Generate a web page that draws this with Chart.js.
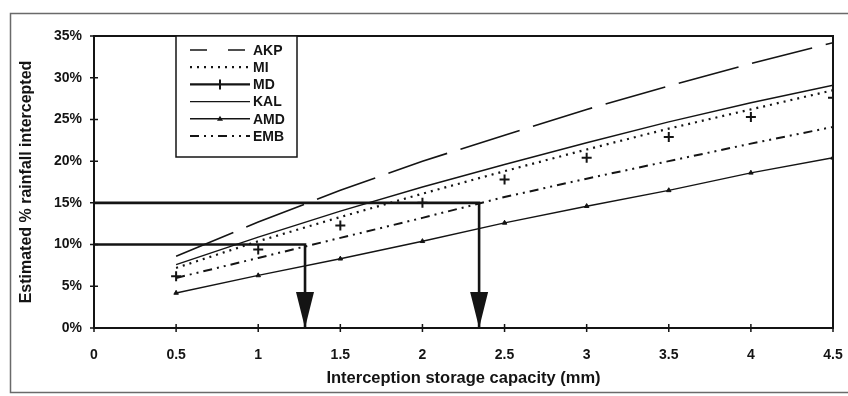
<!DOCTYPE html>
<html>
<head>
<meta charset="utf-8">
<script src="https://cdn.jsdelivr.net/npm/chart.js@4/dist/chart.umd.min.js"></script>
<style>
  html, body { margin: 0; padding: 0; background: #fff; }
  canvas { display: block; }
</style>
</head>
<body>
<canvas id="chart" width="848" height="396"></canvas>
<script>
// Interception storage capacity (mm) at which each model was evaluated
const capacity = [0.5, 1, 1.5, 2, 2.5, 3, 3.5, 4, 4.5];

// Estimated % of rainfall intercepted, per model
const akp = [8.6, 12.7, 16.5, 20.0, 23.1, 26.2, 29.0, 31.7, 34.2];
const mi  = [7.2, 10.4, 13.3, 16.1, 18.8, 21.4, 23.9, 26.2, 28.5];
const md  = [6.2, 9.4, 12.3, 15.0, 17.8, 20.4, 22.9, 25.3, 27.6];
const kal = [7.6, 10.9, 14.0, 16.9, 19.6, 22.2, 24.7, 27.0, 29.1];
const amd = [4.2, 6.3, 8.3, 10.4, 12.6, 14.6, 16.5, 18.6, 20.4];
const emb = [6.0, 8.4, 10.8, 13.2, 15.7, 17.9, 20.0, 22.1, 24.1];

const seriesNames = ['AKP', 'MI', 'MD', 'KAL', 'AMD', 'EMB'];

// Axis tick labels
const xTickLabels = ['0', '0.5', '1', '1.5', '2', '2.5', '3', '3.5', '4', '4.5'];
const yTickLabels = ['0%', '5%', '10%', '15%', '20%', '25%', '30%', '35%'];

// Read-off guides: target interception (%) and the capacity (mm) it maps to
const readOffTargets  = [10, 15];
const readOffCapacity = [1.285, 2.345];

const INK = '#141414';
const FONT = '"Liberation Sans", Arial, sans-serif';

const pts = (ys) => capacity.map((x, i) => ({ x, y: ys[i] }));

const styles = {
  AKP: { borderDash: [62, 14], borderWidth: 1.6, pointRadius: 0 },
  MI:  { borderDash: [2, 5], borderWidth: 2.2, pointRadius: 0 },
  MD:  { showLine: false, pointStyle: 'cross', pointRadius: 5, pointBorderWidth: 2 },
  KAL: { borderWidth: 1.4, pointRadius: 0 },
  AMD: { borderWidth: 1.4, pointStyle: 'triangle', pointRadius: 2.6, pointBorderWidth: 1 },
  EMB: { borderDash: [9, 5, 2, 5, 2, 5], borderWidth: 2, pointRadius: 0 }
};
// Shorter dash for the legend swatch of the long-dash series
const legendDash = { AKP: [17, 21] };
const values = { AKP: akp, MI: mi, MD: md, KAL: kal, AMD: amd, EMB: emb };

const datasets = seriesNames.map(name => Object.assign({
  label: name,
  data: pts(values[name]),
  borderColor: INK,
  backgroundColor: INK,
  pointBackgroundColor: INK,
  pointBorderColor: INK,
  fill: false,
  tension: 0
}, styles[name]));

// Guide lines: across from the y axis at the target, then down to the x axis
readOffTargets.forEach((t, i) => {
  datasets.push({
    label: 'guide' + i,
    data: [{ x: 0, y: t }, { x: readOffCapacity[i], y: t }, { x: readOffCapacity[i], y: 0 }],
    borderColor: INK,
    borderWidth: 2.6,
    pointRadius: 0,
    fill: false,
    tension: 0
  });
});

// White page plus the thin outer frame
const framePlugin = {
  id: 'frame',
  beforeDraw(chart) {
    const ctx = chart.ctx;
    ctx.save();
    ctx.fillStyle = '#fff';
    ctx.fillRect(0, 0, chart.width, chart.height);
    ctx.strokeStyle = '#6a6a6a';
    ctx.lineWidth = 1.5;
    ctx.strokeRect(10.5, 13.5, chart.width - 3, chart.height - 17);
    ctx.restore();
  }
};

// Plot box (top/right edges), crossing tick marks and arrowheads
const decorPlugin = {
  id: 'decor',
  afterDatasetsDraw(chart) {
    const { ctx, chartArea: a, scales: { x, y } } = chart;
    ctx.save();
    ctx.strokeStyle = INK;
    ctx.lineWidth = 2;
    ctx.beginPath();
    ctx.moveTo(a.left, a.top);
    ctx.lineTo(a.right, a.top);
    ctx.lineTo(a.right, a.bottom);
    ctx.stroke();

    ctx.lineWidth = 1.5;
    ctx.beginPath();
    y.ticks.forEach(t => {
      const py = y.getPixelForValue(t.value);
      ctx.moveTo(a.left - 4, py);
      ctx.lineTo(a.left + 4, py);
    });
    x.ticks.forEach(t => {
      const px = x.getPixelForValue(t.value);
      ctx.moveTo(px, a.bottom - 4);
      ctx.lineTo(px, a.bottom + 4);
    });
    ctx.stroke();

    ctx.fillStyle = INK;
    readOffCapacity.forEach(c => {
      const px = x.getPixelForValue(c);
      const py = y.getPixelForValue(0);
      ctx.beginPath();
      ctx.moveTo(px, py);
      ctx.lineTo(px - 9, py - 36);
      ctx.lineTo(px + 9, py - 36);
      ctx.closePath();
      ctx.fill();
    });
    ctx.restore();
  }
};

// Boxed legend in the upper left of the plot
const legendPlugin = {
  id: 'boxLegend',
  afterDraw(chart) {
    const { ctx, chartArea: a } = chart;
    const bx = a.left + 82, by = a.top, bw = 121, bh = 121;
    ctx.save();
    ctx.fillStyle = '#fff';
    ctx.fillRect(bx, by, bw, bh);
    ctx.strokeStyle = INK;
    ctx.lineWidth = 1.5;
    ctx.strokeRect(bx, by, bw, bh);

    ctx.font = 'bold 14px ' + FONT;
    ctx.textBaseline = 'middle';
    ctx.textAlign = 'left';
    seriesNames.forEach((name, i) => {
      const ds = chart.data.datasets[i];
      const ly = by + 14 + i * 17.2;
      const x0 = bx + 14, x1 = bx + 74;
      ctx.strokeStyle = INK;
      ctx.setLineDash(legendDash[name] || ds.borderDash || []);
      ctx.lineWidth = name === 'MD' ? 2.4 : (ds.borderWidth || 1.4);
      ctx.beginPath();
      ctx.moveTo(x0, ly);
      ctx.lineTo(x1, ly);
      ctx.stroke();
      ctx.setLineDash([]);
      const mx = (x0 + x1) / 2;
      if (name === 'MD') {
        ctx.lineWidth = 2;
        ctx.beginPath();
        ctx.moveTo(mx, ly - 5); ctx.lineTo(mx, ly + 5);
        ctx.stroke();
      } else if (name === 'AMD') {
        ctx.fillStyle = INK;
        ctx.beginPath();
        ctx.moveTo(mx, ly - 3); ctx.lineTo(mx - 3, ly + 2); ctx.lineTo(mx + 3, ly + 2);
        ctx.closePath();
        ctx.fill();
      }
      ctx.fillStyle = INK;
      ctx.fillText(name, x1 + 3, ly + 1);
    });
    ctx.restore();
  }
};

new Chart(document.getElementById('chart'), {
  type: 'line',
  data: { datasets },
  options: {
    responsive: false,
    animation: false,
    devicePixelRatio: 1,
    layout: { padding: { left: 12, right: 15, top: 36, bottom: 8 } },
    plugins: { legend: { display: false }, tooltip: { enabled: false } },
    scales: {
      x: {
        type: 'linear',
        min: 0, max: 4.5,
        afterBuildTicks: s => { s.ticks = xTickLabels.map(l => ({ value: parseFloat(l) })); },
        afterFit: s => { s.height = 60; s.paddingLeft = 0; s.paddingRight = 0; },
        grid: { display: false },
        border: { display: true, color: INK, width: 2 },
        ticks: {
          callback: (v, i) => xTickLabels[i],
          color: INK, maxRotation: 0, padding: 11,
          font: { family: FONT, size: 14, weight: 'bold' }
        },
        title: {
          display: true,
          text: 'Interception storage capacity (mm)',
          color: INK,
          padding: { top: 0, bottom: 0 },
          font: { family: FONT, size: 16.5, weight: 'bold' }
        }
      },
      y: {
        type: 'linear',
        min: 0, max: 35,
        afterBuildTicks: s => { s.ticks = yTickLabels.map(l => ({ value: parseFloat(l) })); },
        afterFit: s => { s.width = 82; s.paddingTop = 0; s.paddingBottom = 0; },
        grid: { display: false },
        border: { display: true, color: INK, width: 2 },
        ticks: {
          callback: (v, i) => yTickLabels[i],
          color: INK, padding: 4,
          font: { family: FONT, size: 14, weight: 'bold' }
        },
        title: {
          display: true,
          text: 'Estimated % rainfall intercepted',
          color: INK,
          padding: { top: 5, bottom: 0 },
          font: { family: FONT, size: 16, weight: 'bold' }
        }
      }
    }
  },
  plugins: [framePlugin, decorPlugin, legendPlugin]
});
</script>
</body>
</html>
